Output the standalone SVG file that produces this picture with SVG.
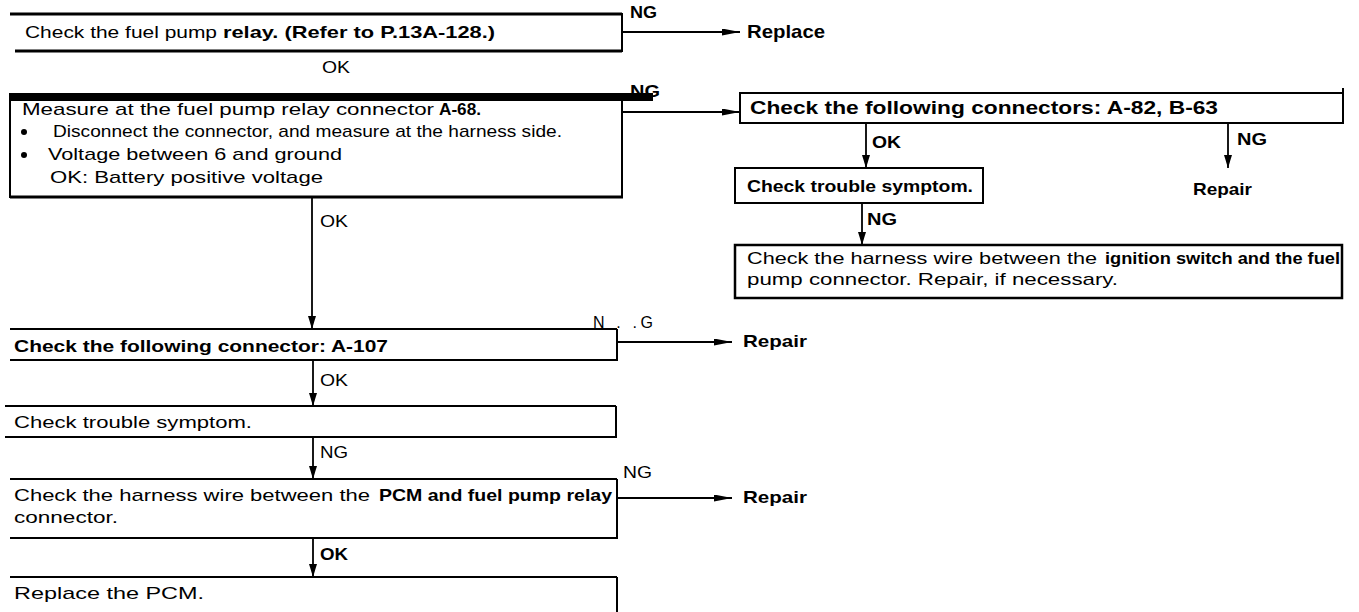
<svg xmlns="http://www.w3.org/2000/svg" width="1359" height="612" viewBox="0 0 1359 612">
<defs>
<style>
.t{font-family:"Liberation Sans",Arial,sans-serif;font-size:17px;fill:#000}
.b{font-family:"Liberation Sans",Arial,sans-serif;font-size:17px;font-weight:bold;fill:#000}
.lb{font-family:"Liberation Sans",Arial,sans-serif;font-size:16px;fill:#000}
.lbb{font-family:"Liberation Sans",Arial,sans-serif;font-size:16px;font-weight:bold;fill:#000}
.ln{stroke:#000;stroke-width:2;fill:none}
.lt{stroke:#000;stroke-width:3;fill:none}
.c{stroke:#000;stroke-width:1.8;fill:none}
.h{marker-end:url(#ah)}
.v{marker-end:url(#av)}
</style>
<marker id="ah" markerUnits="userSpaceOnUse" markerWidth="18" markerHeight="7" refX="18" refY="3.5" orient="auto"><path d="M0,0 L18,3.5 L0,7 Z" fill="#000"/></marker>
<marker id="av" markerUnits="userSpaceOnUse" markerWidth="13" markerHeight="8" refX="13" refY="4" orient="auto"><path d="M0,0 L13,4 L0,8 Z" fill="#000"/></marker>
</defs>
<rect width="1359" height="612" fill="#fff"/>

<g id="connectors">
<path class="c h" d="M622,32 H740"/>
<path class="c h" d="M622,112 H740"/>
<path class="c v" d="M312,197 V329"/>
<path class="c v" d="M866,123 V168"/>
<path class="c v" d="M1228,123 V168"/>
<path class="c v" d="M862,203 V245"/>
<path class="c h" d="M617,342 H732"/>
<path class="c v" d="M313,360 V406"/>
<path class="c v" d="M313,437 V479"/>
<path class="c h" d="M617,498 H732"/>
<path class="c v" d="M313,538 V577"/>
<text class="lbb" x="630" y="18" textLength="27" lengthAdjust="spacingAndGlyphs">NG</text>
<text class="lbb" x="630" y="97" textLength="30" lengthAdjust="spacingAndGlyphs">NG</text>
<text class="lb" x="322" y="73" textLength="28" lengthAdjust="spacingAndGlyphs">OK</text>
<text class="lb" x="320" y="227" textLength="28" lengthAdjust="spacingAndGlyphs">OK</text>
<text class="lbb" x="872" y="148" textLength="29" lengthAdjust="spacingAndGlyphs">OK</text>
<text class="lbb" x="1237" y="145" textLength="30" lengthAdjust="spacingAndGlyphs">NG</text>
<text class="lbb" x="867" y="225" textLength="30" lengthAdjust="spacingAndGlyphs">NG</text>
<text class="lb" x="593" y="328" textLength="60" lengthAdjust="spacing">N . .G</text>
<text class="lb" x="320" y="386" textLength="28" lengthAdjust="spacingAndGlyphs">OK</text>
<text class="lb" x="320" y="458" textLength="28" lengthAdjust="spacingAndGlyphs">NG</text>
<text class="lb" x="623" y="478" textLength="29" lengthAdjust="spacingAndGlyphs">NG</text>
<text class="lbb" x="320" y="560" textLength="28" lengthAdjust="spacingAndGlyphs">OK</text>
</g>

<g id="n1">
<path class="lt" d="M10,14 H622 M15,51 H622"/>
<path class="ln" d="M622,13 V52"/>
<text class="t" x="25" y="38" textLength="192" lengthAdjust="spacingAndGlyphs">Check the fuel pump</text>
<text class="b" x="223" y="38" textLength="272" lengthAdjust="spacingAndGlyphs">relay. (Refer to P.13A-128.)</text>
</g>

<g id="replace1">
<text class="b" x="747" y="38" style="font-size:19px" textLength="78" lengthAdjust="spacingAndGlyphs">Replace</text>
</g>

<g id="n2">
<rect x="10" y="93" width="643" height="8" fill="#000"/>
<path class="ln" d="M10,93 V198 M622,101 V198"/>
<path class="lt" d="M10,197 H623"/>
<text class="t" x="22" y="115" textLength="412" lengthAdjust="spacingAndGlyphs">Measure at the fuel pump relay connector</text>
<text class="b" x="439" y="115" textLength="42" lengthAdjust="spacingAndGlyphs">A-68.</text>
<circle cx="24" cy="132" r="3"/>
<text class="t" x="53" y="137" textLength="509" lengthAdjust="spacingAndGlyphs">Disconnect the connector, and measure at the harness side.</text>
<circle cx="24" cy="155" r="3"/>
<text class="t" x="48" y="160" textLength="294" lengthAdjust="spacingAndGlyphs">Voltage between 6 and ground</text>
<text class="t" x="50" y="183" textLength="273" lengthAdjust="spacingAndGlyphs">OK: Battery positive voltage</text>
</g>

<g id="n3">
<rect class="ln" x="740" y="93" width="603" height="30"/>
<path class="ln" d="M1343,88 V93"/>
<text class="b" x="750" y="114" style="font-size:18px" textLength="468" lengthAdjust="spacingAndGlyphs">Check the following connectors: A-82, B-63</text>
</g>

<g id="repair1">
<text class="b" x="1193" y="195" textLength="59" lengthAdjust="spacingAndGlyphs">Repair</text>
</g>

<g id="n4">
<rect class="ln" x="735" y="168" width="248" height="35"/>
<text class="b" x="747" y="192" textLength="226" lengthAdjust="spacingAndGlyphs">Check trouble symptom.</text>
</g>

<g id="n5">
<rect class="ln" x="735" y="245" width="607" height="53" style="stroke-width:2.5"/>
<text class="t" x="747" y="264" textLength="350" lengthAdjust="spacingAndGlyphs">Check the harness wire between the</text>
<text class="b" x="1105" y="264" textLength="235" lengthAdjust="spacingAndGlyphs">ignition switch and the fuel</text>
<text class="t" x="747" y="285" textLength="371" lengthAdjust="spacingAndGlyphs">pump connector. Repair, if necessary.</text>
</g>

<g id="n6">
<path class="ln" d="M10,329 H617 M10,360 H617 M617,329 V361"/>
<text class="b" x="14" y="352" textLength="374" lengthAdjust="spacingAndGlyphs">Check the following connector: A-107</text>
</g>

<g id="repair2">
<text class="b" x="743" y="347" textLength="64" lengthAdjust="spacingAndGlyphs">Repair</text>
</g>

<g id="n7">
<path class="ln" d="M5,406 H616 M5,437 H616 M616,406 V438"/>
<text class="t" x="14" y="428" textLength="238" lengthAdjust="spacingAndGlyphs">Check trouble symptom.</text>
</g>

<g id="n8">
<path class="ln" d="M10,479 H617 M10,538 H617 M617,479 V539"/>
<text class="t" x="14" y="501" textLength="356" lengthAdjust="spacingAndGlyphs">Check the harness wire between the</text>
<text class="b" x="379" y="501" textLength="233" lengthAdjust="spacingAndGlyphs">PCM and fuel pump relay</text>
<text class="t" x="14" y="523" textLength="104" lengthAdjust="spacingAndGlyphs">connector.</text>
</g>

<g id="repair3">
<text class="b" x="743" y="503" textLength="64" lengthAdjust="spacingAndGlyphs">Repair</text>
</g>

<g id="n9">
<path class="ln" d="M10,577 H617 M617,577 V612"/>
<text class="t" x="14" y="599" textLength="190" lengthAdjust="spacingAndGlyphs">Replace the PCM.</text>
</g>
</svg>
